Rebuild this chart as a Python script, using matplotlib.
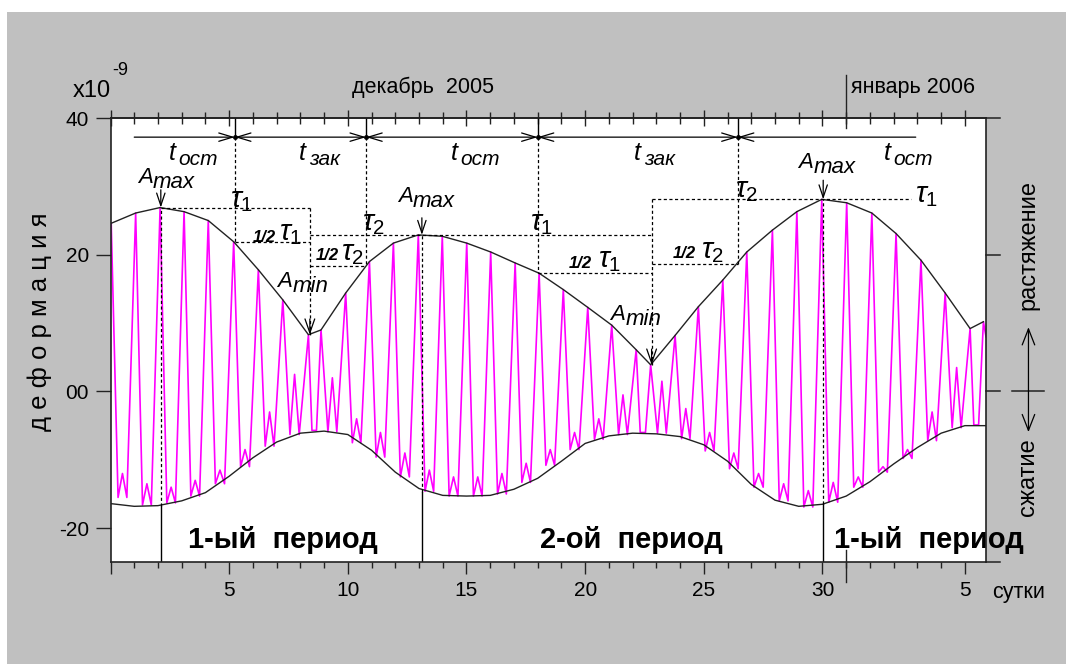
import numpy as np
import matplotlib
matplotlib.use("Agg")
import matplotlib.pyplot as plt
from matplotlib.patches import Rectangle
from matplotlib.transforms import blended_transform_factory

plt.rcParams["font.family"] = ["Liberation Sans", "DejaVu Sans"]
plt.rcParams["mathtext.fontset"] = "custom"
plt.rcParams["mathtext.it"] = "Liberation Sans:italic"
plt.rcParams["mathtext.rm"] = "Liberation Sans"

# ---- data: days counted from 30 Nov 2005, deformation in 1e-9 ----
# daily maxima of the tidal record (the upper envelope runs through them)
peak_day = [0.03, 1.06, 2.09, 3.10, 4.12, 5.19, 6.23, 7.26, 8.34, 8.87,
            9.91, 10.91, 11.92, 12.97, 13.98, 15.01, 16.02, 17.05, 18.06, 19.08,
            20.11, 21.12, 22.15, 22.76, 23.79, 24.77, 25.80, 26.81, 27.89, 28.92,
            29.97, 31.02, 32.08, 33.10, 34.15, 35.17, 36.22, 36.78]
peak_val = [24.6, 26.1, 26.9, 26.3, 25.0, 21.9, 17.8, 13.4, 8.3, 9.0,
            14.4, 19.0, 21.7, 22.9, 22.7, 21.7, 20.4, 18.8, 17.3, 14.9,
            12.3, 9.7, 6.1, 3.9, 8.2, 12.4, 16.3, 20.4, 23.6, 26.3,
            28.1, 27.6, 26.1, 23.1, 19.2, 14.4, 9.2, 10.2]
# minima and small semidiurnal bump between consecutive maxima
trough_val = [-15.5, -16.6, -16.3, -15.3, -13.5, -11.0, -8.0, -6.3, -5.7, -5.9,
              -7.5, -9.6, -12.5, -14.6, -15.3, -15.3, -15.0, -13.3, -10.8, -8.5,
              -7.0, -6.3, -6.0, -6.1, -6.9, -8.7, -11.3, -14.0, -16.0, -16.9,
              -16.2, -14.0, -11.8, -9.8, -7.2, -5.3, -4.9]
bump_val = [-12.0, -13.5, -14.0, -13.0, -11.5, -8.5, -3.0, 2.5, -5.7, 2.0,
            -4.0, -6.0, -9.0, -11.5, -12.5, -12.5, -12.0, -10.5, -8.5, -6.0,
            -4.0, -0.5, -6.0, 1.5, -2.5, -6.0, -9.0, -12.0, -13.5, -14.5,
            -13.3, -12.5, -11.0, -8.5, -3.0, 3.5, -4.9]
end_day, end_val = 36.89, 8.0

# lower envelope
low_day = [0, 1, 2, 3, 4, 5, 6, 7, 8, 9, 10, 11, 12, 13, 14, 15, 16, 17, 18, 19,
           20, 21, 22, 23, 24, 25, 26, 27, 28, 29, 30, 31, 32, 33, 34, 35, 36, 36.89]
low_val = [-16.4, -16.8, -16.7, -16.0, -14.8, -12.4, -9.7, -7.4, -6.1, -5.8,
           -6.3, -8.6, -11.8, -14.2, -15.2, -15.3, -15.2, -14.3, -12.7, -10.2,
           -7.6, -6.5, -6.1, -6.2, -6.6, -7.8, -10.2, -13.6, -15.9, -16.8,
           -16.5, -15.3, -13.2, -10.6, -8.2, -6.1, -5.0, -5.0]

# characteristic points
amax_day = [2.12, 13.12, 30.03]
amax_val = [26.9, 22.9, 28.1]
amax_foot = [-16.7, -14.7, -16.4]
amin_day = [8.40, 22.80]
amin_val = [8.3, 3.9]
bound_day = [5.24, 10.77, 18.0, 26.43]
half_val = [21.8, 18.4, 17.4, 18.7]

major_days = [0, 5, 10, 15, 20, 25, 30, 36]
major_labels = ["", "5", "10", "15", "20", "25", "30", "5"]
minor_days = [d for d in range(1, 37) if d not in major_days]
ytick_vals = [40, 20, 0, -20]
ytick_labels = ["40", "20", "00", "-20"]

W, H = 1066, 664
YMIN, YMAX, XMAX = -24.9, 40, 36.89
INK = "#222222"

fig = plt.figure(figsize=(W / 100, H / 100), dpi=100)
fig.patch.set_facecolor("white")
fig.add_artist(Rectangle((7 / W, 0), 1 - 7 / W, 1 - 12 / H, transform=fig.transFigure,
                         facecolor="#c0c0c0", edgecolor="none", zorder=-10))

ax = fig.add_axes([110.5 / W, 1 - 561.7 / H, 875.5 / W, (561.7 - 118) / H])
ax.set_facecolor("white")

# tidal record
sig_x, sig_y = [], []
for i in range(len(peak_day) - 1):
    d0, span = peak_day[i], peak_day[i + 1] - peak_day[i]
    sig_x += [d0, d0 + 0.28 * span, d0 + 0.46 * span, d0 + 0.64 * span]
    sig_y += [peak_val[i], trough_val[i], bump_val[i], trough_val[i]]
sig_x += [peak_day[-1], end_day]
sig_y += [peak_val[-1], end_val]
ax.plot(sig_x, sig_y, color="#ff00ff", lw=1.2, zorder=2)

# envelopes
ax.plot(peak_day, peak_val, color=INK, lw=1.0, zorder=3)
ax.plot(low_day, low_val, color=INK, lw=1.0, zorder=3)

# construction lines
DASH = dict(color="black", lw=0.9, ls=(0, (2.5, 2)), zorder=4)
arrow_y = 37.2
for b, h in zip(bound_day, half_val):
    ax.plot([b, b], [arrow_y, h], **DASH)
    ax.plot([b, b], [arrow_y, YMAX], color="black", lw=1, zorder=4)
for d, v, f in zip(amax_day, amax_val, amax_foot):
    ax.plot([d, d], [f, v], **DASH)
    ax.plot([d, d], [YMIN, f], color="black", lw=1, zorder=4)
ax.plot([amax_day[0], amin_day[0]], [amax_val[0]] * 2, **DASH)
ax.plot([amin_day[0], amin_day[1]], [amax_val[1]] * 2, **DASH)
ax.plot([amin_day[1], 33.74], [amax_val[2]] * 2, **DASH)
ax.plot([bound_day[0], amin_day[0]], [half_val[0]] * 2, **DASH)
ax.plot([amin_day[0], bound_day[1]], [half_val[1]] * 2, **DASH)
ax.plot([bound_day[2], amin_day[1]], [half_val[2]] * 2, **DASH)
ax.plot([amin_day[1], bound_day[3]], [half_val[3]] * 2, **DASH)
ax.plot([amin_day[0]] * 2, [amax_val[0], amin_val[0]], **DASH)
ax.plot([amin_day[1]] * 2, [amax_val[2], amin_val[1]], **DASH)
ax.plot(bound_day, [arrow_y] * len(bound_day), "o", ms=2.5, color="black", zorder=5)


def arrow(p0, p1, style, hl, hw, coords="data"):
    ax.annotate("", xy=p1, xytext=p0, xycoords=coords, textcoords=coords,
                arrowprops=dict(arrowstyle=f"{style},head_length={hl},head_width={hw}",
                                lw=0.9, color="black", shrinkA=0, shrinkB=0,
                                mutation_scale=10),
                annotation_clip=False, zorder=5)


edges = [1.0] + bound_day + [33.93]
for i in range(len(edges) - 1):
    style = "->" if i == 0 else ("<-" if i == len(edges) - 2 else "<->")
    arrow((edges[i], arrow_y), (edges[i + 1], arrow_y), style, 1.0, 0.3)
for d, v, top in zip(amax_day, amax_val, [29.5, 25.4, 30.9]):
    arrow((d, top), (d, v), "->", 0.9, 0.3)
for d, v in zip(amin_day, amin_val):
    arrow((d, v + 2.3), (d, v), "->", 1.0, 0.35)


def sub_text(x, y, base, sub, size, sub_size, dx, dy):
    ax.text(x, y, base, fontsize=size, style="italic", ha="left", va="baseline", zorder=6)
    ax.annotate(sub, (x, y), xytext=(dx, -dy), textcoords="offset points",
                fontsize=sub_size, style="italic", ha="left", va="baseline", zorder=6)


for x, s in zip([2.45, 7.94, 14.35, 22.06, 32.59], ["ост", "зак", "ост", "зак", "ост"]):
    sub_text(x, 33.85, "t", s, 18, 15, 7.0, 3.6)
for x, y in [(1.15, 30.49), (12.1, 27.75), (28.97, 32.68)]:
    sub_text(x, y, "A", "max", 16, 16, 11.0, 3.6)
for x, y in [(7.02, 15.31), (21.05, 10.44)]:
    sub_text(x, y, "A", "min", 16, 16, 11.0, 3.6)
for x, y, s in [(5.04, 27.0, "1"), (10.58, 23.6, "2"), (17.68, 23.6, "1"),
                (26.32, 28.48, "2"), (33.89, 27.75, "1")]:
    ax.text(x, y, rf"$\tau_{s}$", fontsize=21, ha="left", va="baseline", zorder=6)
for x, y, xr, yr, s in [(7.10, 22.1, 6.95, 21.9, "1"), (9.71, 19.22, 9.63, 19.22, "2"),
                        (20.54, 18.24, 20.27, 18.05, "1"), (24.88, 19.47, 24.67, 19.5, "2")]:
    ax.text(x, y, rf"$\tau_{s}$", fontsize=21, ha="left", va="baseline", zorder=6)
    ax.text(xr, yr, "1/2", fontsize=12, fontweight="bold", style="italic",
            ha="right", va="baseline", zorder=6)

for x, s in [(7.27, "1-ый  период"), (21.96, "2-ой  период"), (34.49, "1-ый  период")]:
    ax.text(x, -22.93, s, fontsize=21, fontweight="bold", ha="center", va="baseline",
            clip_on=False, zorder=6)

# axes, ticks
for sp in ax.spines.values():
    sp.set_color(INK)
    sp.set_linewidth(1.2)
    sp.set_zorder(7)
ax.set_xticks(major_days, labels=major_labels)
ax.set_xticks(minor_days, minor=True)
ax.tick_params(axis="x", which="major", direction="out", length=8.5, width=1,
               color=INK, pad=5.5, labelsize=15)
ax.tick_params(axis="x", which="minor", direction="out", length=4.5, width=1, color=INK)
ax.set_yticks(ytick_vals, labels=ytick_labels)
ax.tick_params(axis="y", direction="out", length=11, width=1, color=INK, pad=4.5,
               labelsize=15)

top = ax.secondary_xaxis("top")
top.set_xticks(major_days)
top.set_xticks(minor_days, minor=True)
top.tick_params(which="major", direction="inout", length=12, width=1, color=INK,
                labeltop=False)
top.tick_params(which="minor", direction="inout", length=8.5, width=1, color=INK)
top.spines["top"].set_color(INK)
top.spines["top"].set_linewidth(1.2)

ax.set_xlim(0, XMAX)
ax.set_ylim(YMIN, YMAX)

# month boundary (31 Dec / 1 Jan)
tr_fig = blended_transform_factory(ax.transData, fig.transFigure)
ax.plot([31, 31], [1 - 75 / H, 1 - 128 / H], color=INK, lw=1, transform=tr_fig, clip_on=False)
ax.plot([31, 31], [1 - 550 / H, 1 - 581.7 / H], color=INK, lw=1, transform=tr_fig, clip_on=False)

# right side: ticks, spine extensions, tension/compression arrow
tr_r = blended_transform_factory(ax.transAxes, ax.transData)
for yv in [YMAX, 20, 0, YMIN]:
    ax.plot([1, 1.016], [yv, yv], color=INK, lw=1.1, transform=tr_r, clip_on=False)
ax.plot([1.0297, 1.0668], [0, 0], color=INK, lw=1.1, transform=tr_r, clip_on=False)
arrow((1.0485, 9.4), (1.0485, -5.95), "<->", 1.15, 0.45, coords=tr_r)
ax.text(1.0485, 21.4, "растяжение", transform=tr_r, rotation=90, fontsize=17,
        ha="center", va="center")
ax.text(1.0485, -12.54, "сжатие", transform=tr_r, rotation=90, fontsize=17,
        ha="center", va="center")

# figure texts
fig.text(73 / W, 1 - 97 / H, "x10", fontsize=17, ha="left", va="baseline")
fig.text(112 / W, 1 - 75 / H, "-9", fontsize=13, ha="left", va="baseline")
fig.text(423 / W, 1 - 93 / H, "декабрь  2005", fontsize=15.5, ha="center", va="baseline")
fig.text(851 / W, 1 - 93 / H, "январь 2006", fontsize=15.5, ha="left", va="baseline")
fig.text(992 / W, 1 - 598 / H, "сутки", fontsize=15.5, ha="left", va="baseline")
fig.text(40 / W, 1 - 322 / H, "д е ф о р м а ц и я", fontsize=18.5, rotation=90,
         ha="center", va="center")

fig.savefig("out.png", dpi=100)
